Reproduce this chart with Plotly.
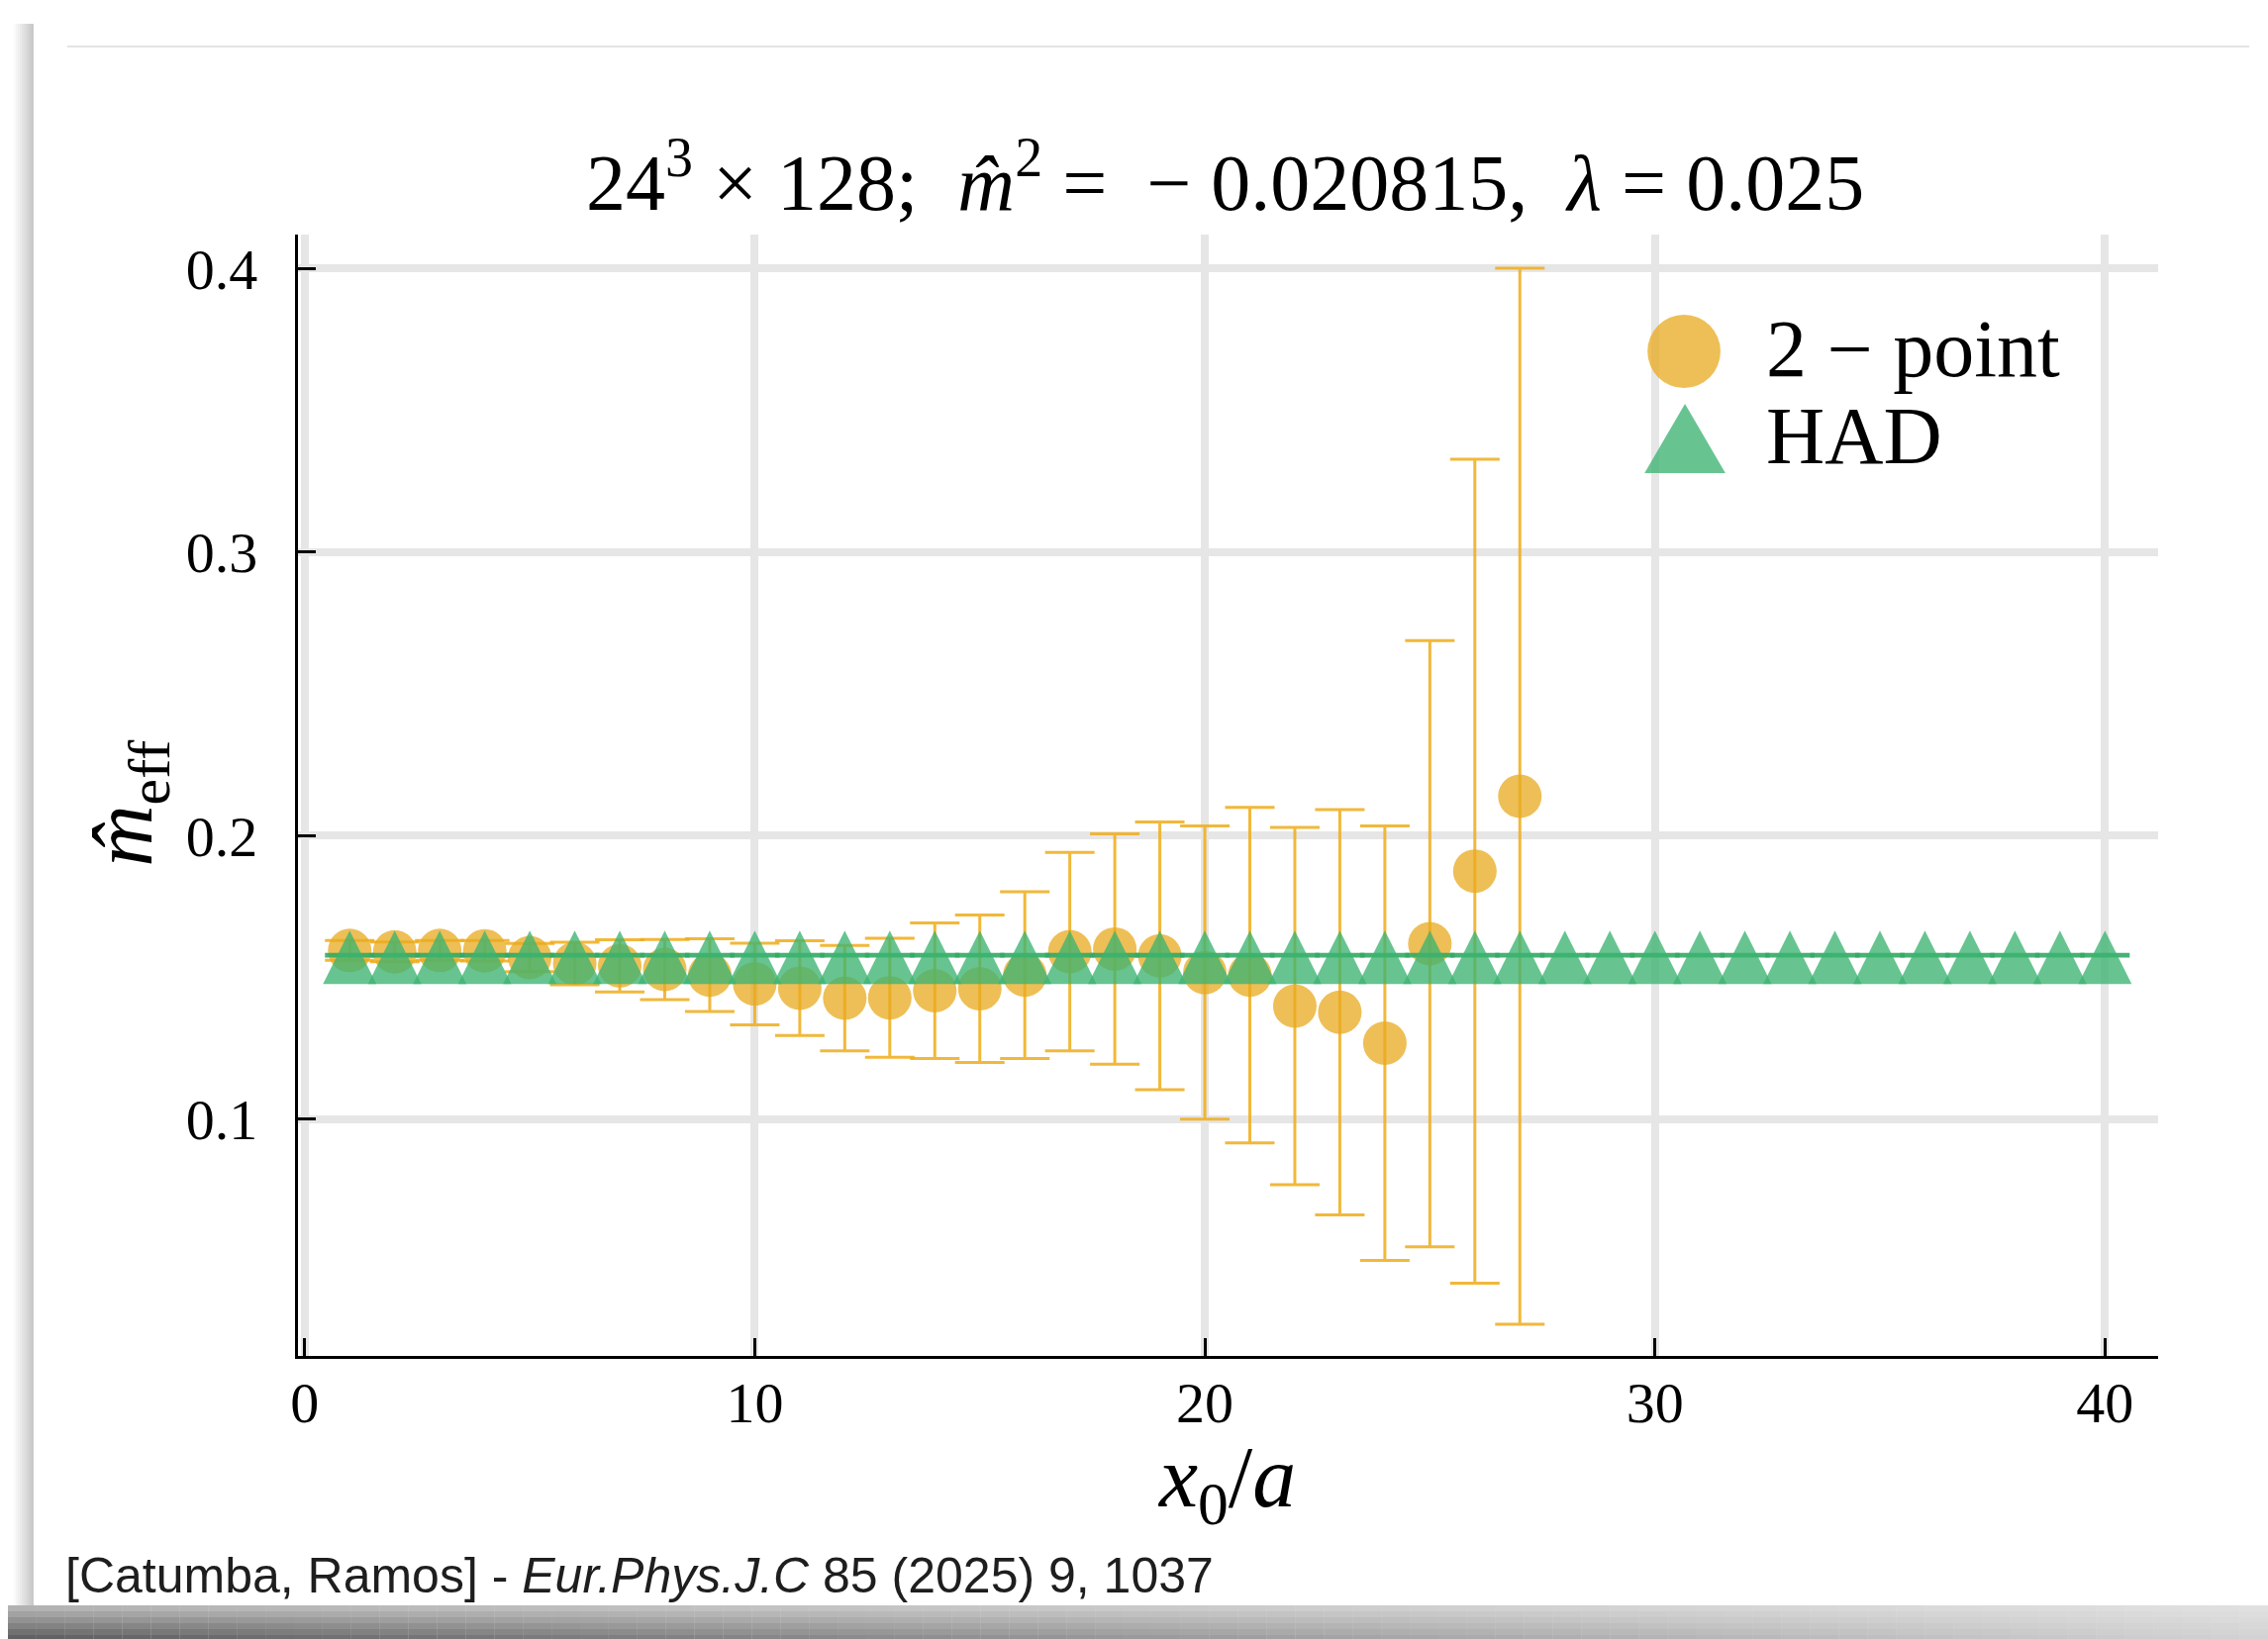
import plotly.graph_objects as go

W, H = 2291, 1656

# ---------------- data ----------------
x_2pt = [1, 2, 3, 4, 5, 6, 7, 8, 9, 10, 11, 12, 13, 14, 15, 16, 17, 18, 19, 20,
         21, 22, 23, 24, 25, 26, 27]
m_2pt = [0.1595, 0.1590, 0.1595, 0.1594, 0.1570, 0.1549, 0.1541, 0.1528, 0.1508, 0.1477,
         0.1462, 0.1427, 0.1428, 0.1453, 0.1460, 0.1508, 0.1591, 0.1600, 0.1576, 0.1517,
         0.1508, 0.1399, 0.1377, 0.1268, 0.1619, 0.1875, 0.2139]
err_2pt = [0.0035, 0.0035, 0.0035, 0.0036, 0.0050, 0.0075, 0.0092, 0.0106, 0.0128, 0.0144,
           0.0167, 0.0186, 0.0210, 0.0239, 0.0260, 0.0294, 0.0350, 0.0406, 0.0472, 0.0517,
           0.0592, 0.0630, 0.0715, 0.0766, 0.1069, 0.1453, 0.1862]

x_had = [1, 2, 3, 4, 5, 6, 7, 8, 9, 10, 11, 12, 13, 14, 15, 16, 17, 18, 19, 20,
         21, 22, 23, 24, 25, 26, 27, 28, 29, 30, 31, 32, 33, 34, 35, 36, 37, 38, 39, 40]
m_had = [0.1578, 0.1578, 0.1578, 0.1578, 0.1578, 0.1578, 0.1578, 0.1578, 0.1578, 0.1578,
         0.1578, 0.1578, 0.1578, 0.1578, 0.1578, 0.1578, 0.1578, 0.1578, 0.1578, 0.1578,
         0.1578, 0.1578, 0.1578, 0.1578, 0.1578, 0.1578, 0.1578, 0.1578, 0.1578, 0.1578,
         0.1578, 0.1578, 0.1578, 0.1578, 0.1578, 0.1578, 0.1578, 0.1578, 0.1578, 0.1578]
err_had = [0.0004, 0.0004, 0.0004, 0.0004, 0.0004, 0.0004, 0.0004, 0.0004, 0.0004, 0.0004,
           0.0004, 0.0004, 0.0004, 0.0004, 0.0004, 0.0004, 0.0004, 0.0004, 0.0004, 0.0004,
           0.0004, 0.0004, 0.0004, 0.0004, 0.0004, 0.0004, 0.0004, 0.0004, 0.0004, 0.0004,
           0.0004, 0.0004, 0.0004, 0.0004, 0.0004, 0.0004, 0.0004, 0.0004, 0.0004, 0.0004]

x_ticks = [0, 10, 20, 30, 40]
x_ticklabels = ["0", "10", "20", "30", "40"]
y_ticks = [0.1, 0.2, 0.3, 0.4]
y_ticklabels = ["0.1", "0.2", "0.3", "0.4"]

series_names = ["2 \u2212 point", "HAD"]
title_text = ("24<sup>3</sup> \u00d7 128;  <i>m\u0302</i><sup>2</sup> =  \u2212 0.020815,  "
              "<i>\u03bb</i> = 0.025")
xlabel = "<i>x</i><sub>0</sub>/<i>a</i>"
ylabel = "<i>m\u0302</i><sub>eff</sub>"
caption = "[Catumba, Ramos] - <i>Eur.Phys.J.C</i> 85 (2025) 9, 1037"

# ---------------- style ----------------
SERIF = "Liberation Serif, DejaVu Serif, serif"
SANS = "Liberation Sans, Arial, sans-serif"
ORANGE_FILL = "rgba(232,170,30,0.75)"
ORANGE_ERR = "rgba(238,172,25,0.85)"
GREEN_FILL = "rgba(60,179,113,0.78)"
GREEN_ERR = "rgba(50,170,100,0.9)"

# plot area in pixels
PL, PR, PT, PB = 294, 2180, 237, 1370


def px(x):
    return x / W


def py(y):
    return 1 - y / H


fig = go.Figure()

fig.add_trace(go.Scatter(
    x=x_2pt, y=m_2pt, mode="markers", name=series_names[0],
    marker=dict(symbol="circle", size=44, color=ORANGE_FILL, line=dict(width=0)),
    error_y=dict(type="data", array=err_2pt, visible=True, color=ORANGE_ERR,
                 thickness=3, width=25),
    showlegend=False,
))
fig.add_trace(go.Scatter(
    x=x_had, y=m_had, mode="markers", name=series_names[1],
    marker=dict(symbol="arrow-down", angle=180, size=54, standoff=25,
                color=GREEN_FILL, line=dict(width=0)),
    error_y=dict(type="data", array=err_had, visible=True, color=GREEN_ERR,
                 thickness=2.5, width=25),
    showlegend=False,
))

shapes = []
# left shadow of the card
for i in range(10):
    x0 = 6 + i * 2
    shapes.append(dict(type="rect", xref="paper", yref="paper", layer="below",
                       x0=px(x0), x1=px(x0 + 2), y0=py(1622), y1=py(24),
                       fillcolor="rgba(0,0,0,%.3f)" % (0.02 + 0.022 * i), line=dict(width=0)))
# bottom shadow of the card (integer pixel strips, no overlap)
step = 29
for xa in range(0, W, step):
    xb = min(xa + step, W)
    t = xa / W
    for j in range(6):
        ya = 1622 + j * 6
        yb = min(ya + 6, H)
        top_op = 0.30 - 0.18 * t
        bot_op = 0.62 - 0.45 * t
        op = top_op + (bot_op - top_op) * (j / 5)
        shapes.append(dict(type="rect", xref="paper", yref="paper", layer="below",
                           x0=px(xa), x1=px(xb), y0=py(yb), y1=py(ya),
                           fillcolor="rgba(0,0,0,%.3f)" % op, line=dict(width=0)))
# thin top line
shapes.append(dict(type="line", xref="paper", yref="paper", layer="below",
                   x0=px(60), x1=px(2272), y0=py(47), y1=py(47),
                   line=dict(color="rgb(228,228,228)", width=2)))
# legend symbols
cx, cy, r = 1699, 355, 37
shapes.append(dict(type="circle", xref="paper", yref="paper",
                   x0=px(cx - r), x1=px(cx + r), y0=py(cy + r), y1=py(cy - r),
                   fillcolor=ORANGE_FILL, line=dict(width=0)))
tx, ty0, ty1, hw = 1700, 408, 478, 41
shapes.append(dict(type="path", xref="paper", yref="paper",
                   path="M %f,%f L %f,%f L %f,%f Z" % (px(tx), py(ty0), px(tx - hw), py(ty1),
                                                        px(tx + hw), py(ty1)),
                   fillcolor=GREEN_FILL, line=dict(width=0)))

annotations = [
    dict(text=title_text, x=px(1234), y=py(178), xref="paper", yref="paper",
         xanchor="center", yanchor="middle", showarrow=False,
         font=dict(family=SERIF, size=80, color="black")),
    dict(text=xlabel, x=px(1235), y=py(1498), xref="paper", yref="paper",
         xanchor="center", yanchor="middle", showarrow=False,
         font=dict(family=SERIF, size=88, color="black")),
    dict(text=ylabel, x=px(122), y=py(811), xref="paper", yref="paper",
         xanchor="center", yanchor="middle", showarrow=False, textangle=-90,
         font=dict(family=SERIF, size=86, color="black")),
    dict(text=series_names[0], x=px(1780), y=py(352), xref="paper", yref="paper",
         xanchor="left", yanchor="middle", showarrow=False,
         font=dict(family=SERIF, size=82, color="black")),
    dict(text=series_names[1], x=px(1780), y=py(441), xref="paper", yref="paper",
         xanchor="left", yanchor="middle", showarrow=False,
         font=dict(family=SERIF, size=82, color="black")),
    dict(text=caption, x=px(56), y=py(1592), xref="paper", yref="paper",
         xanchor="left", yanchor="middle", showarrow=False,
         font=dict(family=SANS, size=50, color="rgb(30,30,30)")),
]

fig.update_layout(
    width=W, height=H, autosize=False,
    margin=dict(l=0, r=0, t=0, b=0, pad=0),
    paper_bgcolor="white", plot_bgcolor="rgba(0,0,0,0)",
    showlegend=False,
    shapes=shapes, annotations=annotations,
    xaxis=dict(domain=[px(PL), px(PR)], range=[-0.15, 41.19],
               tickmode="array", tickvals=x_ticks, ticktext=x_ticklabels,
               showgrid=True, gridcolor="rgb(230,230,230)", gridwidth=8,
               zeroline=False, showline=True, linecolor="black", linewidth=3,
               ticks="inside", ticklen=18, tickwidth=3, tickcolor="black",
               ticklabelstandoff=-6,
               tickfont=dict(family=SERIF, size=58, color="black")),
    yaxis=dict(domain=[py(PB), py(PT)], range=[0.0165, 0.412],
               tickmode="array", tickvals=y_ticks, ticktext=y_ticklabels,
               showgrid=True, gridcolor="rgb(230,230,230)", gridwidth=8,
               zeroline=False, showline=True, linecolor="black", linewidth=3,
               ticks="inside", ticklen=18, tickwidth=3, tickcolor="black",
               ticklabelstandoff=26,
               tickfont=dict(family=SERIF, size=58, color="black")),
)

fig.write_html("out.html")
